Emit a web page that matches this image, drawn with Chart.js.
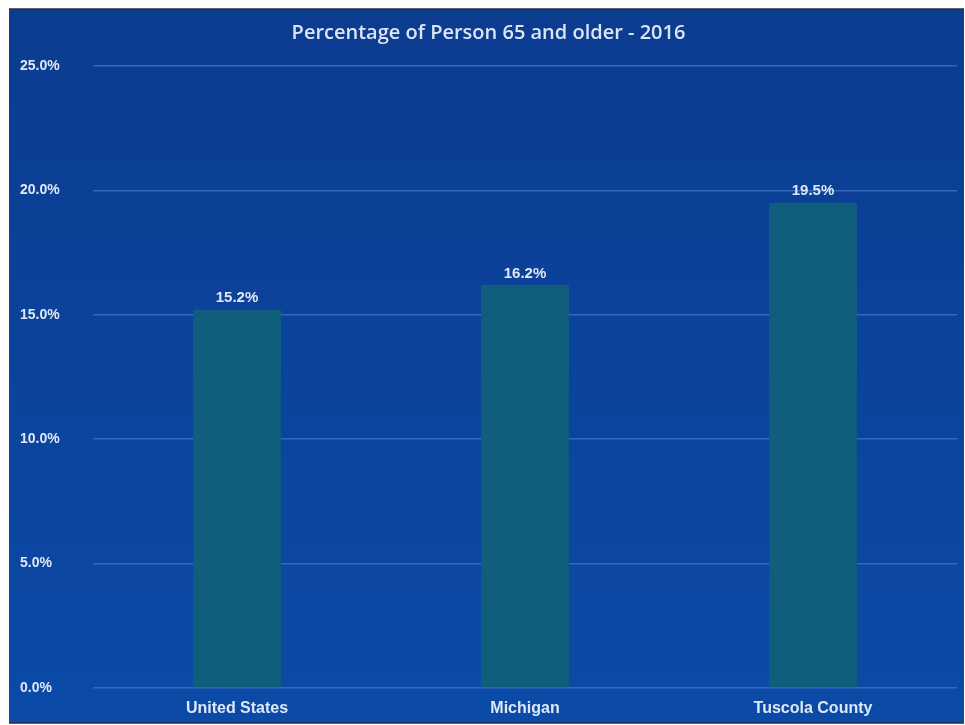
<!DOCTYPE html>
<html>
<head>
<meta charset="utf-8">
<script src="https://cdn.jsdelivr.net/npm/chart.js@4"></script>
<style>
  html, body { margin: 0; padding: 0; background: #ffffff; }
  #wrap { position: absolute; left: 0; top: 0; width: 965px; height: 725px; }
</style>
</head>
<body>
<div id="wrap"><canvas id="c" width="965" height="725"></canvas></div>
<script>
const categories = ["United States", "Michigan", "Tuscola County"];
const values = [15.2, 16.2, 19.5];
const chartTitle = "Percentage of Person 65 and older - 2016";
const yTickValues = [0, 5, 10, 15, 20, 25];

const panelPlugin = {
  id: 'panel',
  beforeDraw(chart) {
    const ctx = chart.ctx;
    const W = chart.width, H = chart.height;
    ctx.save();
    ctx.fillStyle = '#ffffff';
    ctx.fillRect(0, 0, W, H);
    const x0 = 9, y0 = 9, x1 = 964, y1 = 723;
    const g = ctx.createLinearGradient(0, y0, 0, y1);
    g.addColorStop(0, '#0b3c90');
    g.addColorStop(1, '#0b4aa8');
    ctx.fillStyle = g;
    ctx.fillRect(x0, y0, x1 - x0, y1 - y0);
    ctx.strokeStyle = '#2a2f3a';
    ctx.lineWidth = 1.5;
    ctx.beginPath();
    ctx.moveTo(x0, y0); ctx.lineTo(x1, y0);
    ctx.moveTo(x0, y1); ctx.lineTo(x1, y1);
    ctx.stroke();
    ctx.restore();
  }
};

const labelPlugin = {
  id: 'barLabels',
  afterDatasetsDraw(chart) {
    const ctx = chart.ctx;
    const meta = chart.getDatasetMeta(0);
    ctx.save();
    ctx.fillStyle = '#dfe8f6';
    ctx.font = 'bold 15px "Liberation Sans", Arial, sans-serif';
    ctx.textAlign = 'center';
    ctx.textBaseline = 'bottom';
    meta.data.forEach((bar, i) => {
      ctx.fillText(values[i].toFixed(1) + '%', bar.x, bar.y - 4);
    });
    ctx.restore();
  }
};

new Chart(document.getElementById('c'), {
  type: 'bar',
  data: {
    labels: categories,
    datasets: [{
      data: values,
      backgroundColor: '#0f5f7c',
      borderWidth: 0,
      categoryPercentage: 1,
      barPercentage: 0.305
    }]
  },
  options: {
    responsive: false,
    animation: false,
    layout: { padding: { left: 20, right: 8, top: 9, bottom: 0 } },
    plugins: {
      legend: { display: false },
      tooltip: { enabled: false },
      title: {
        display: true,
        text: chartTitle,
        color: '#dbe5f4',
        font: { family: '"Open Sans", Lato, sans-serif', size: 20, weight: '600', lineHeight: 1.2 },
        padding: { top: 12, bottom: 21 }
      }
    },
    scales: {
      x: {
        grid: { display: false, drawTicks: false },
        border: { display: false },
        ticks: {
          color: '#dfe8f6',
          font: { family: '"Liberation Sans", Arial, sans-serif', size: 16, weight: 'bold' },
          padding: 11
        },
        afterFit(scale) { scale.height = 37; }
      },
      y: {
        min: 0,
        max: 25,
        afterBuildTicks(scale) { scale.ticks = yTickValues.map(v => ({ value: v })); },
        grid: { color: '#3469bd', lineWidth: 1.5, drawTicks: false },
        border: { display: false },
        ticks: {
          color: '#dfe8f6',
          font: { family: '"Liberation Sans", Arial, sans-serif', size: 14, weight: 'bold' },
          crossAlign: 'far',
          padding: 8,
          callback: v => Number(v).toFixed(1) + '%'
        },
        afterFit(scale) { scale.width = 73; }
      }
    }
  },
  plugins: [panelPlugin, labelPlugin]
});
</script>
</body>
</html>
